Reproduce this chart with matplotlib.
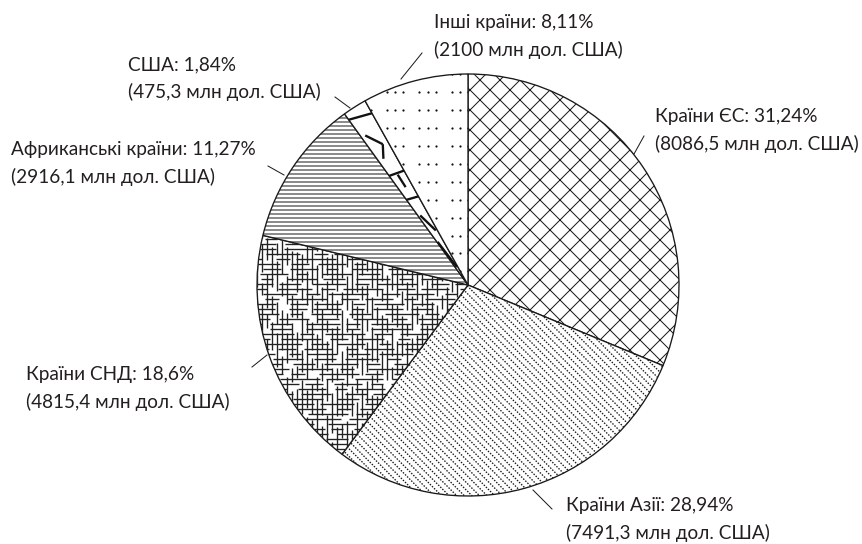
import numpy as np
import matplotlib
matplotlib.use('Agg')
import matplotlib.pyplot as plt
from matplotlib.collections import LineCollection

# ---- data ----
categories = ['Країни ЄС', 'Країни Азії', 'Країни СНД', 'Африканські країни', 'США', 'Інші країни']
shares = [31.24, 28.94, 18.6, 11.27, 1.84, 8.11]
share_text = ['31,24%', '28,94%', '18,6%', '11,27%', '1,84%', '8,11%']
amounts = ['8086,5', '7491,3', '4815,4', '2916,1', '475,3', '2100']

# ---- layout (pixels) ----
DPI = 120
W, H = 862, 544
cx, cy, R = 468, 285, 211
label_pos = [(655, 122), (566, 511), (26, 380), (11, 155), (128, 70), (434, 28)]
leaders = [((634, 154), (644, 136)), ((533, 490), (552, 509)), ((252, 367), (267, 355)),
           ((284, 175), (268, 166)), ((350, 108), (335, 97)), ((401, 79), (422, 53))]
LINE_GAP = 28
TXT = '#231f20'
FS = 11.4

plt.rcParams['hatch.linewidth'] = 0.6
plt.rcParams['font.family'] = ['Lato', 'DejaVu Sans']

fig = plt.figure(figsize=(W / DPI, H / DPI), dpi=DPI)
ax = fig.add_axes([0, 0, 1, 1])
hatches = ['xx', '', '', '-----', '', '']
wedges, _ = ax.pie(shares, center=(cx, cy), radius=R, startangle=-90, counterclock=True,
                   colors=['white'] * 6, hatch=hatches,
                   wedgeprops=dict(edgecolor='#1a1a1a', linewidth=0.8))
ax.set_xlim(0, W)
ax.set_ylim(H, 0)
ax.set_aspect('auto')
ax.axis('off')


def clip_segments(segs, wedge, **kw):
    lc = LineCollection(segs, **kw)
    ax.add_collection(lc)
    lc.set_clip_path(wedge)
    return lc


x0, x1 = cx - R - 20, cx + R + 20
y0, y1 = cy - R - 20, cy + R + 20

# Asia: dotted diagonal lines
segs = []
for c in np.arange(y0 - x1, y1 - x0, 7.6):
    segs.append([(x0, x0 + c), (x1, x1 + c)])
clip_segments(segs, wedges[1], colors='#1a1a1a', linewidths=0.8, linestyles=[(0, (1.1, 1.1))])

# CIS: irregular brick-like crosshatch
lens = [22, 34, 14, 40, 18, 28, 12, 30]
gaps = [8, 14, 6, 11, 9]
segs = []
for i, yy in enumerate(np.arange(y0, y1, 5.0)):
    x = x0 - (i * 37) % 29
    k = i
    while x < x1:
        L = lens[k % len(lens)]
        segs.append([(x, yy), (x + L, yy)])
        x += L + gaps[k % len(gaps)]
        k += 1
for i, xx in enumerate(np.arange(x0, x1, 5.0)):
    y = y0 - (i * 23) % 31
    k = i * 3
    while y < y1:
        L = lens[k % len(lens)]
        segs.append([(xx, y), (xx, y + L)])
        y += L + gaps[(k + 2) % len(gaps)]
        k += 1
clip_segments(segs, wedges[2], colors='#222222', linewidths=0.8)

# USA: thick strokes
w = wedges[4]
a0, a1 = np.deg2rad(w.theta1), np.deg2rad(w.theta2)


def pt(r, t):
    a = a0 + (a1 - a0) * t
    return (cx + R * r * np.cos(a), cy + R * r * np.sin(a))


usa_strokes = [[pt(0.97, -0.1), pt(0.93, 1.1)], [pt(0.86, 0.2), pt(0.78, 0.7)],
               [pt(0.78, 0.7), pt(0.72, 0.3)], [pt(0.64, -0.1), pt(0.62, 1.1)],
               [pt(0.62, 0.5), pt(0.55, 0.5)], [pt(0.50, -0.1), pt(0.48, 1.1)],
               [pt(0.40, 0.2), pt(0.30, 0.8)], [pt(0.25, 0.1), pt(0.1, 0.6)]]
clip_segments(usa_strokes, w, colors='#111111', linewidths=1.4)

# Others: grouped dots
pts = []
for m in range(-25, 25):
    for k in range(-20, 20):
        for j in range(3):
            pts.append((386.7 + 32.5 * k + 8.3 * j, 92.3 + 17.9 * m))
pts = np.array(pts)
sc = ax.scatter(pts[:, 0], pts[:, 1], s=1.8, c='#111111', linewidths=0)
sc.set_clip_path(wedges[5])

# labels
for i, cat in enumerate(categories):
    x, y = label_pos[i]
    ax.text(x, y, f'{cat}: {share_text[i]}', fontsize=FS, color=TXT, va='baseline', ha='left')
    ax.text(x, y + LINE_GAP, f'({amounts[i]} млн дол. США)', fontsize=FS, color=TXT,
            va='baseline', ha='left')
    (sx, sy), (ex, ey) = leaders[i]
    ax.plot([sx, ex], [sy, ey], color='#1a1a1a', lw=0.6)

fig.savefig('out.png', dpi=DPI)
